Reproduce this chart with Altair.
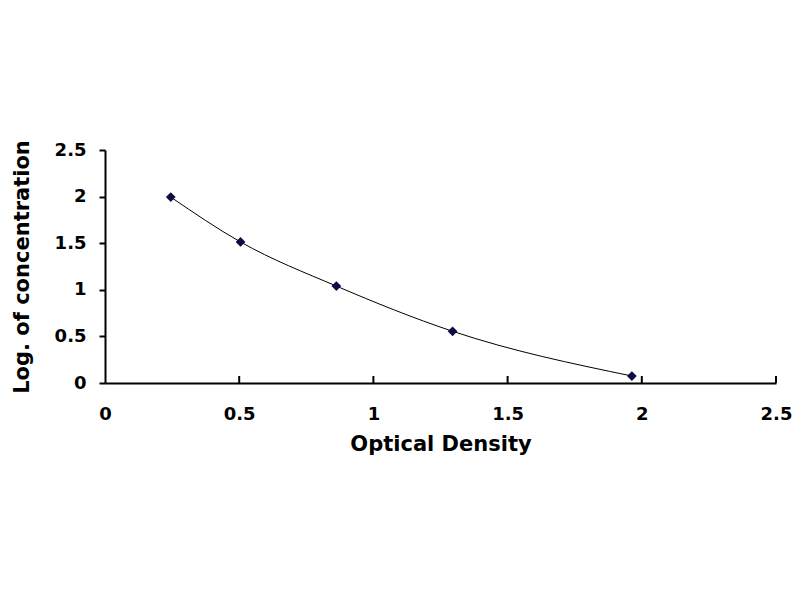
import altair as alt
import pandas as pd

od = [0.245, 0.505, 0.862, 1.295, 1.963]
log_conc = [1.995, 1.513, 1.04, 0.555, 0.075]
x_ticks = [0.5, 1.0, 1.5, 2.0, 2.5]

df = pd.DataFrame({"od": od, "lc": log_conc})
ticks_df = pd.DataFrame({"t": x_ticks})

W, H = 671, 233
FONT = "DejaVu Sans"

xs = alt.Scale(domain=[0, 2.5], nice=False)
ys = alt.Scale(domain=[0, 2.5], nice=False)

xaxis = alt.Axis(
    values=[0, 0.5, 1, 1.5, 2, 2.5], format="~g", grid=False, labelFlush=False,
    tickSize=0, labelPadding=22, domainColor="black", domainWidth=2,
    labelFont=FONT, labelFontSize=18, labelFontWeight="bold", labelColor="black",
    title="Optical Density", titleFont=FONT, titleFontSize=21, titleFontWeight="bold",
    titleColor="black", titlePadding=10,
)
yaxis = alt.Axis(
    values=[0, 0.5, 1, 1.5, 2, 2.5], format="~g", grid=False, labelFlush=False,
    tickSize=6, tickWidth=2, tickColor="black", labelPadding=13,
    domainColor="black", domainWidth=2,
    labelFont=FONT, labelFontSize=18, labelFontWeight="bold", labelColor="black",
    title="Log. of concentration", titleFont=FONT, titleFontSize=21, titleFontWeight="bold",
    titleColor="black", titlePadding=22,
)

line = alt.Chart(df).mark_line(color="black", strokeWidth=1, interpolate="monotone").encode(
    x=alt.X("od:Q", scale=xs, axis=xaxis),
    y=alt.Y("lc:Q", scale=ys, axis=yaxis),
)
points = alt.Chart(df).mark_point(shape="diamond", filled=True, color="#0d0d45", size=95, opacity=1).encode(
    x=alt.X("od:Q", scale=xs),
    y=alt.Y("lc:Q", scale=ys),
)
tick_rules = alt.Chart(ticks_df).mark_rule(color="black", strokeWidth=2).encode(
    x=alt.X("t:Q", scale=xs),
    y=alt.value(H),
    y2=alt.value(H - 7),
)

chart = alt.layer(line, tick_rules, points).properties(
    width=W, height=H,
    autosize=alt.AutoSizeParams(type="none"),
    padding={"left": 97, "top": 142, "right": 16, "bottom": 200},
    background="white",
).configure_view(stroke=None)

chart.save("out.html", embed_options={"renderer": "svg", "actions": False})
